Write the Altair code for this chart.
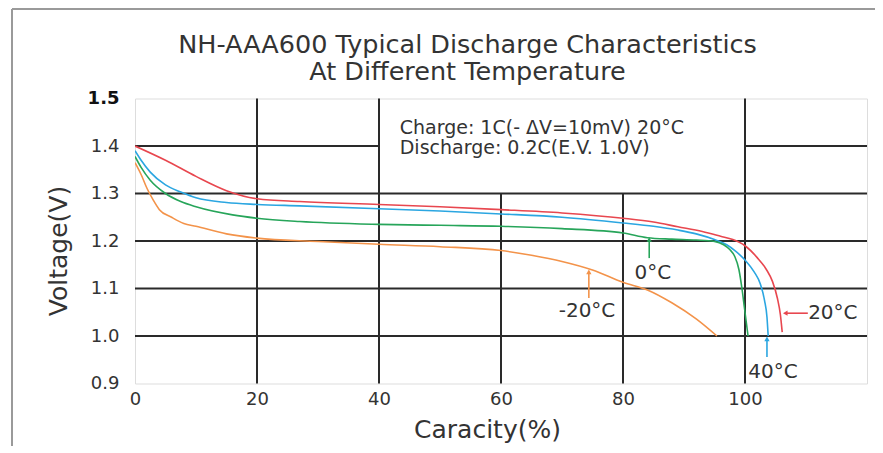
import altair as alt
import pandas as pd

# ---- data ----
series_names = ["20°C", "40°C", "0°C", "-20°C"]
series_colors = ["#e8474f", "#2ba6e1", "#27a55a", "#f3934a"]

red_x = [0, 5, 10, 15, 20, 27, 40, 50, 60, 70, 80, 85, 89, 93, 96, 98, 100, 102, 103.5, 104.5, 105.3, 105.8, 106.1]
red_y = [1.400, 1.370, 1.336, 1.306, 1.289, 1.283, 1.277, 1.272, 1.266, 1.259, 1.248, 1.240, 1.230, 1.220, 1.210, 1.203, 1.190, 1.165, 1.140, 1.115, 1.080, 1.045, 1.008]

blue_x = [0, 1, 2.5, 5, 7.5, 10, 15, 20, 27, 40, 50, 60, 70, 80, 85, 89, 92, 95, 97, 98.5, 100, 101.5, 102.5, 103.2, 103.6, 103.8]
blue_y = [1.390, 1.370, 1.345, 1.318, 1.303, 1.291, 1.281, 1.277, 1.274, 1.268, 1.263, 1.257, 1.250, 1.238, 1.231, 1.223, 1.215, 1.203, 1.192, 1.178, 1.160, 1.135, 1.110, 1.075, 1.040, 1.000]

green_x = [0, 1, 2.5, 5, 7.5, 10, 16, 20, 27, 40, 50, 60, 70, 80, 84, 88, 92, 95, 96.5, 97.5, 98.3, 99, 99.5, 99.9, 100.3, 100.5]
green_y = [1.378, 1.355, 1.328, 1.300, 1.283, 1.272, 1.255, 1.248, 1.241, 1.235, 1.233, 1.231, 1.226, 1.217, 1.207, 1.204, 1.202, 1.199, 1.192, 1.182, 1.168, 1.140, 1.100, 1.060, 1.020, 1.000]

orange_x = [0, 1, 2, 3, 4, 6, 8, 10, 15, 20, 30, 40, 50, 60, 65, 70, 75, 80, 84, 88, 92, 95.4]
orange_y = [1.365, 1.340, 1.310, 1.286, 1.266, 1.250, 1.237, 1.231, 1.215, 1.206, 1.199, 1.193, 1.188, 1.180, 1.170, 1.157, 1.139, 1.113, 1.097, 1.070, 1.036, 1.000]

x_ticks = [0, 20, 40, 60, 80, 100]
y_ticks = [0.9, 1.0, 1.1, 1.2, 1.3, 1.4, 1.5]

# grid segments (the annotation box hides part of the grid)
vgrid_x = [20, 40, 60, 80, 100]
vgrid_top = [1.5, 1.5, 1.3, 1.3, 1.5]
hgrid_y = [1.0, 1.1, 1.2, 1.3, 1.4, 1.4]
hgrid_x1 = [0, 0, 0, 0, 0, 100]
hgrid_x2 = [120, 120, 120, 120, 40, 120]

# curve labels and their pointer arrows
label_text = ["0°C", "-20°C", "40°C", "20°C"]
label_x = [84.9, 74.1, 104.6, 114.4]
label_y = [1.133, 1.053, 0.924, 1.048]
arrow_series = ["0°C", "-20°C", "40°C"]
arrow_x = [84.3, 74.4, 103.6]
arrow_top = [1.203, 1.135, 0.994]
arrow_bottom = [1.164, 1.080, 0.956]
harrow_y = [1.048]
harrow_x_tip = [106.6]
harrow_x_end = [110.3]

box_lines = ["Charge: 1C(- ΔV=10mV) 20°C", "Discharge: 0.2C(E.V. 1.0V)"]
box_x = [43.4, 43.4]
box_y = [1.438, 1.396]

title_lines = ["NH-AAA600 Typical Discharge Characteristics", "At Different Temperature"]

# ---- tables ----
rows = []
for name, xs_, ys_ in [("20°C", red_x, red_y), ("40°C", blue_x, blue_y),
                       ("0°C", green_x, green_y), ("-20°C", orange_x, orange_y)]:
    for i, (a, b) in enumerate(zip(xs_, ys_)):
        rows.append({"series": name, "cap": a, "v": b, "idx": i})
curves = pd.DataFrame(rows)

vgrid = pd.DataFrame({"x": vgrid_x, "y1": [0.9] * len(vgrid_x), "y2": vgrid_top})
hgrid = pd.DataFrame({"y": hgrid_y, "x1": hgrid_x1, "x2": hgrid_x2})
labels = pd.DataFrame({"t": label_text, "x": label_x, "y": label_y})
arrows = pd.DataFrame({"series": arrow_series, "x": arrow_x, "y1": arrow_top, "y2": arrow_bottom})
harrows = pd.DataFrame({"series": ["20°C"], "y": harrow_y, "x1": harrow_x_tip, "x2": harrow_x_end})
box = pd.DataFrame({"t": box_lines, "x": box_x, "y": box_y})
one = pd.DataFrame({"k": [0]})

FONT = "DejaVu Sans"
TXT = "#333333"

xs = alt.Scale(domain=[0, 120], nice=False, zero=False)
ys = alt.Scale(domain=[0.9, 1.5], nice=False, zero=False)
cs = alt.Scale(domain=series_names, range=series_colors)

X = alt.X("cap:Q", scale=xs,
          axis=alt.Axis(values=x_ticks, grid=False, ticks=False, domain=False,
                        title="Caracity(%)", titleFont=FONT, titleFontSize=25,
                        titleFontWeight="normal", titleColor=TXT, titlePadding=9,
                        titleX=352,
                        labelFont=FONT, labelFontSize=18, labelColor=TXT,
                        labelPadding=7, labelFlush=False))
Y = alt.Y("v:Q", scale=ys,
          axis=alt.Axis(values=y_ticks, grid=False, ticks=False, domain=False, format=".1f",
                        title="Voltage(V)", titleFont=FONT, titleFontSize=25,
                        titleFontWeight="normal", titleColor=TXT, titlePadding=16,
                        titleY=152,
                        labelFont=FONT, labelFontSize=18,
                        labelColor={"expr": "datum.value == 1.5 ? '#111' : '#333'"},
                        labelFontWeight={"expr": "datum.value == 1.5 ? 'bold' : 'normal'"},
                        labelPadding=16, labelFlush=False))

base_curves = alt.Chart(curves).mark_line(strokeWidth=1.6, interpolate="monotone", clip=True).encode(
    x=X, y=Y,
    color=alt.Color("series:N", scale=cs, legend=None),
    order=alt.Order("idx:Q"),
)

vg = alt.Chart(vgrid).mark_rule(color="#2a2a2a", strokeWidth=2).encode(
    x=alt.X("x:Q", scale=xs), y=alt.Y("y1:Q", scale=ys), y2="y2:Q")
hg = alt.Chart(hgrid).mark_rule(color="#2a2a2a", strokeWidth=2).encode(
    y=alt.Y("y:Q", scale=ys), x=alt.X("x1:Q", scale=xs), x2="x2:Q")

arr = alt.Chart(arrows).mark_rule(strokeWidth=1.6).encode(
    x=alt.X("x:Q", scale=xs), y=alt.Y("y1:Q", scale=ys), y2="y2:Q",
    color=alt.Color("series:N", scale=cs, legend=None))
arr_head = alt.Chart(arrows).mark_point(shape="triangle-up", filled=True, size=28, opacity=1).encode(
    x=alt.X("x:Q", scale=xs), y=alt.Y("y1:Q", scale=ys),
    color=alt.Color("series:N", scale=cs, legend=None))
harr = alt.Chart(harrows).mark_rule(strokeWidth=1.6).encode(
    y=alt.Y("y:Q", scale=ys), x=alt.X("x1:Q", scale=xs), x2="x2:Q",
    color=alt.Color("series:N", scale=cs, legend=None))
harr_head = alt.Chart(harrows).mark_point(shape="triangle-left", filled=True, size=28, opacity=1).encode(
    y=alt.Y("y:Q", scale=ys), x=alt.X("x1:Q", scale=xs),
    color=alt.Color("series:N", scale=cs, legend=None))

lab = alt.Chart(labels).mark_text(font=FONT, fontSize=20, color=TXT, baseline="middle", align="center").encode(
    x=alt.X("x:Q", scale=xs), y=alt.Y("y:Q", scale=ys), text="t:N")

boxt = alt.Chart(box).mark_text(font=FONT, fontSize=19, color=TXT, baseline="middle", align="left").encode(
    x=alt.X("x:Q", scale=xs), y=alt.Y("y:Q", scale=ys), text="t:N")

# chart title (two centred lines above the plot)
title1 = alt.Chart(one).mark_text(font=FONT, fontSize=25.5, color=TXT, baseline="middle", align="center").encode(
    x=alt.value(332.5), y=alt.value(-54), text=alt.value(title_lines[0]))
title2 = alt.Chart(one).mark_text(font=FONT, fontSize=25.5, color=TXT, baseline="middle", align="center").encode(
    x=alt.value(332.5), y=alt.value(-26.5), text=alt.value(title_lines[1]))

frame_left = alt.Chart(one).mark_rule(color="#9a9a9a", strokeWidth=2).encode(
    x=alt.value(-123), y=alt.value(-89.5), y2=alt.value(370))
frame_top = alt.Chart(one).mark_rule(color="#9a9a9a", strokeWidth=2).encode(
    x=alt.value(-123), x2=alt.value(745), y=alt.value(-89.5))

chart = alt.layer(
    frame_left, frame_top, vg, hg, base_curves, arr, arr_head, harr, harr_head, lab, boxt,
    title1, title2
).properties(
    width=732, height=285,
    autosize=alt.AutoSizeParams(type="none"),
    padding={"left": 127, "top": 90.5, "right": 8, "bottom": 62},
).configure_view(stroke="#555555", strokeWidth=2).configure(background="white")

chart.save("out.html", embed_options={"renderer": "svg", "actions": False})
